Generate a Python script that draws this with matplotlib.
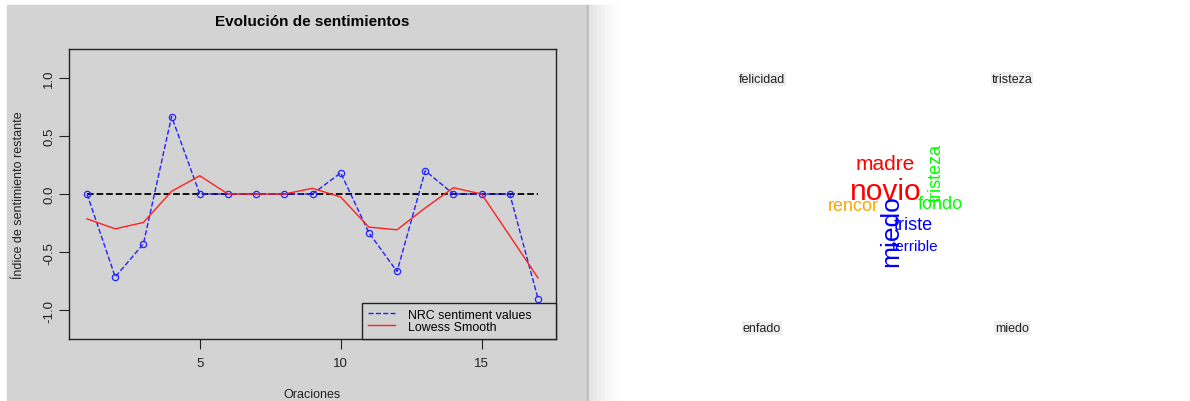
import matplotlib.pyplot as plt
from matplotlib.patches import Rectangle

plt.rcParams['font.family'] = ['Liberation Sans', 'DejaVu Sans']

# datos del grafico de sentimientos
oraciones = list(range(1, 18))
nrc_values = [0, -0.714, -0.429, 0.667, 0, 0, 0, 0, 0, 0.182,
              -0.333, -0.667, 0.2, 0, 0, 0, -0.9]
lowess_values = [-0.214, -0.30, -0.245, 0.023, 0.157, 0, 0, 0, 0.049, -0.026,
                 -0.285, -0.308, -0.12, 0.054, 0, -0.36, -0.722]

# nube de palabras comparativa
grupos = ['felicidad', 'tristeza', 'enfado', 'miedo']
palabras = ['madre', 'novio', 'tristeza', 'fondo', 'rencor', 'miedo', 'triste', 'terrible']
colores = ['red', 'red', '#00ff00', '#00ff00', 'orange', 'blue', 'blue', 'blue']
tamanos = [15, 21.5, 13, 13, 13, 19, 13, 11]
rotaciones = [0, 0, 90, 0, 0, 90, 0, 0]
pos_palabras = [(885, 165), (886, 192), (936, 173), (940, 205), (853, 207),
                (891, 231), (913, 226), (915, 247)]
pos_grupos = [(762, 80), (1012, 80), (762, 329), (1012, 329)]

W, H = 1190, 402
fig = plt.figure(figsize=(W / 100, H / 100), dpi=100)
fig.patch.set_facecolor('white')

# panel gris con sombra
fig.patches.append(Rectangle((7 / W, 0), (587 - 7) / W, (H - 6) / H,
                             transform=fig.transFigure, color='#d3d3d3', zorder=-10))
fig.patches.append(Rectangle((587 / W, 0), 2 / W, (H - 6) / H,
                             transform=fig.transFigure, color='#bbbbbb', zorder=-10))
sombra = ['#e4e4e4', '#e9e9e9', '#eeeeee', '#f2f2f2', '#f6f6f6', '#f9f9f9', '#fcfcfc']
for i, g in enumerate(sombra):
    fig.patches.append(Rectangle(((589 + 4 * i) / W, 0), 4 / W, (H - 6) / H,
                                 transform=fig.transFigure, color=g, zorder=-10))

ax = fig.add_axes([69 / W, (H - 340) / H, (556 - 69) / W, 290 / H])
ax.set_facecolor('#d3d3d3')
ax.plot(oraciones, nrc_values, color='#2222ff', ls='--', lw=1,
        label='NRC sentiment values', zorder=3)
ax.plot(oraciones, nrc_values, ls='none', marker='o', mfc='none', mec='#2222ff',
        ms=4.5, mew=0.9, zorder=3)
ax.plot(oraciones, lowess_values, color='#ff2020', lw=1, label='Lowess Smooth', zorder=3)
ax.plot([1, 17], [0, 0], color='black', ls='--', lw=1.3, zorder=2)

ax.set_xlim(0.36, 17.64)
ax.set_ylim(-1.248, 1.248)
ax.set_xticks([5, 10, 15])
ax.set_yticks([-1.0, -0.5, 0.0, 0.5, 1.0])
ax.set_yticklabels(['-1.0', '-0.5', '0.0', '0.5', '1.0'], rotation=90, va='center')
ax.tick_params(length=7, width=0.8, labelsize=9.5, colors='#222222', pad=6)
ax.tick_params(axis='y', pad=3)
for s in ax.spines.values():
    s.set_color('#222222')
    s.set_linewidth(1)

ax.set_title('Evolución de sentimientos', fontsize=11, fontweight='bold', pad=17)
ax.set_xlabel('Oraciones', fontsize=9, labelpad=14, color='#222222')
ax.set_ylabel('Índice de sentimiento restante', fontsize=9, labelpad=13, color='#222222')

leg = ax.legend(loc='lower left', bbox_to_anchor=(0.6016, 0, 0.3984, 0.12), mode='expand',
                borderaxespad=0, fontsize=8.9, labelspacing=0.0, handlelength=2.2,
                handletextpad=1.0, borderpad=0.5, fancybox=False, framealpha=1,
                facecolor='#d3d3d3', edgecolor='#222222')
leg.get_frame().set_linewidth(1)
leg._legend_box.align = 'left'

# nube de palabras
wc = fig.add_axes([0, 0, 1, 1], facecolor='none')
wc.set_xlim(0, W)
wc.set_ylim(H, 0)
wc.axis('off')
for g, (x, y) in zip(grupos, pos_grupos):
    wc.text(x, y, g, fontsize=9, ha='center', va='center', color='#222222',
            bbox=dict(facecolor='#eeeeee', edgecolor='none', pad=0.5))
for w, c, s, r, (x, y) in zip(palabras, colores, tamanos, rotaciones, pos_palabras):
    wc.text(x, y, w, fontsize=s, color=c, rotation=r, ha='center', va='center')

fig.savefig('out.png', dpi=100)
